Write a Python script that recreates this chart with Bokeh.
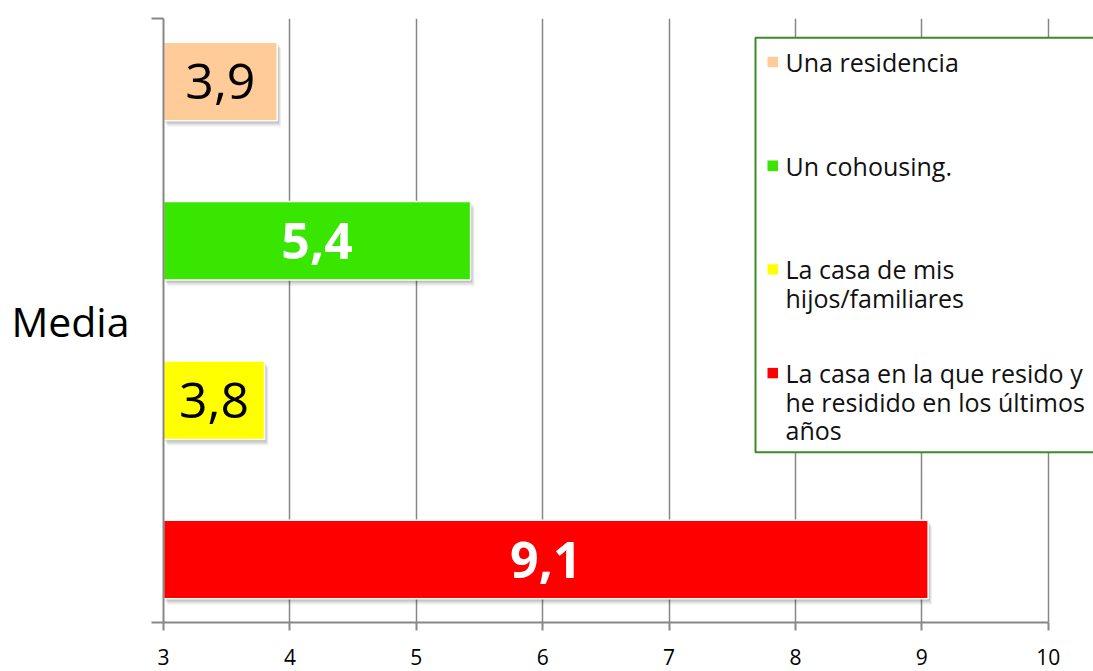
from bokeh.plotting import figure
from bokeh.models import FixedTicker, Label, BoxAnnotation, ColumnDataSource, Range1d
from bokeh.embed import file_html
from bokeh.resources import INLINE
from bokeh.core.properties import value

# ---------------- data ----------------
category = "Media"
series = ["Una residencia", "Un cohousing.", "La casa de mis hijos/familiares",
          "La casa en la que resido y he residido en los últimos años"]
legend_lines = [["Una residencia"],
                ["Un cohousing."],
                ["La casa de mis", "hijos/familiares"],
                ["La casa en la que resido y", "he residido en los últimos", "años"]]
medias = [3.9, 5.43, 3.8, 9.05]
value_labels = ["3,9", "5,4", "3,8", "9,1"]
colors = ["#FFCC99", "#38E600", "#FFFF00", "#FF0000"]
label_colors = ["#000000", "#FFFFFF", "#000000", "#FFFFFF"]
label_styles = ["normal", "bold", "normal", "bold"]
x_ticks = [3, 4, 5, 6, 7, 8, 9, 10]

# ---------------- layout ----------------
W, H = 1093, 671
BL, BR, BT, BB = 163, 0, 18, 49
FW, FH = W - BL - BR, H - BT - BB
XLO, XAX = 3, 10          # axis extent
SX = (1047.7 - BL) / (XAX - XLO)
XHI = XLO + FW / SX       # frame extends to the right edge (legend lives there)
YLO, YHI = -0.395, 3.395
SY = FH / (YHI - YLO)

def X(px):  # canvas x -> data x
    return XLO + (px - BL) / SX

def Y(py):  # canvas y -> data y
    return YHI - (py - BT) / SY

n = len(series)
slots = [n - 1 - i for i in range(n)]

p = figure(width=W, height=H, output_backend="svg", toolbar_location=None,
           x_range=Range1d(XLO, XHI), y_range=Range1d(YLO, YHI),
           min_border_left=BL, min_border_right=BR, min_border_top=BT, min_border_bottom=BB)
p.outline_line_color = None
p.background_fill_color = "white"
p.border_fill_color = "white"

GRAY = "#878787"
p.ygrid.visible = False
p.xgrid.ticker = FixedTicker(ticks=x_ticks)
p.xgrid.grid_line_color = GRAY
p.xgrid.grid_line_width = 1.5

p.xaxis.ticker = FixedTicker(ticks=x_ticks)
p.xaxis.bounds = (XLO, XAX)
p.xaxis.axis_line_color = GRAY
p.xaxis.axis_line_width = 2
p.xaxis.major_tick_line_color = GRAY
p.xaxis.major_tick_line_width = 2
p.xaxis.major_tick_in = 0
p.xaxis.major_tick_out = 8
p.xaxis.minor_tick_line_color = None
p.xaxis.major_label_text_font = "Open Sans"
p.xaxis.major_label_text_font_size = "21px"
p.xaxis.major_label_text_color = "#000000"
p.xaxis.major_label_standoff = 18

p.yaxis.ticker = FixedTicker(ticks=[YLO, YHI])
p.yaxis.major_label_overrides = {YLO: "", YHI: ""}
p.yaxis.major_label_text_font_size = "0px"
p.yaxis.axis_line_color = GRAY
p.yaxis.axis_line_width = 2
p.yaxis.major_tick_line_color = GRAY
p.yaxis.major_tick_line_width = 2
p.yaxis.major_tick_in = 0
p.yaxis.major_tick_out = 12
p.yaxis.minor_tick_line_color = None
p.yaxis.axis_label = category
p.yaxis.axis_label_orientation = "horizontal"
p.yaxis.axis_label_text_font = "Open Sans"
p.yaxis.axis_label_text_font_size = "41px"
p.yaxis.axis_label_text_font_style = "normal"
p.yaxis.axis_label_text_color = "#000000"
p.yaxis.axis_label_standoff = 22

# ---------------- bars ----------------
bar_h = 78.4 / SY
src = ColumnDataSource(dict(slot=slots, media=medias, color=colors, serie=series,
                            mid=[(XLO + v) / 2 for v in medias], lab=value_labels,
                            lcol=label_colors, lsty=label_styles))

for dx, dy, a in [(1, 1.5, 0.10), (2, 3, 0.09), (3, 4.5, 0.07), (4, 6, 0.05)]:
    sh = ColumnDataSource(dict(y=[s - dy / SY for s in slots],
                               left=[XLO + dx / SX] * n,
                               right=[v + dx / SX for v in medias]))
    p.hbar(y="y", left="left", right="right", height=bar_h, source=sh,
           fill_color="#000000", fill_alpha=a, line_color=None)

p.hbar(y="slot", left=XLO, right="media", height=bar_h, source=src,
       fill_color="color", line_color="white", line_width=1.5)

p.text(x="mid", y="slot", text="lab", source=src, text_align="center",
       text_baseline="middle", text_color="lcol", text_font_style="lsty",
       text_font=value("Open Sans"), text_font_size="50px")

# ---------------- legend ----------------
box = BoxAnnotation(left=X(755), right=X(1110), top=Y(37.3), bottom=Y(451.7),
                    fill_color="white", fill_alpha=1.0,
                    line_color="#3f8a25", line_alpha=1.0, line_width=2)
p.add_layout(box)

first_mid = 61.5
pitch = 103.7
line_h = 28.4
for i, lines in enumerate(legend_lines):
    mid = first_mid + i * pitch
    sw = BoxAnnotation(left=X(767), right=X(777.5),
                       top=Y(mid - 5.2), bottom=Y(mid + 5.2),
                       fill_color=colors[i], fill_alpha=1.0, line_color=None)
    p.add_layout(sw)
    for j, t in enumerate(lines):
        p.add_layout(Label(x=X(785), y=Y(mid + j * line_h), text=t,
                           text_font="Open Sans", text_font_size="25px",
                           text_color="#111111", text_baseline="middle",
                           text_align="left"))

open("out.html", "w").write(file_html(p, INLINE))
